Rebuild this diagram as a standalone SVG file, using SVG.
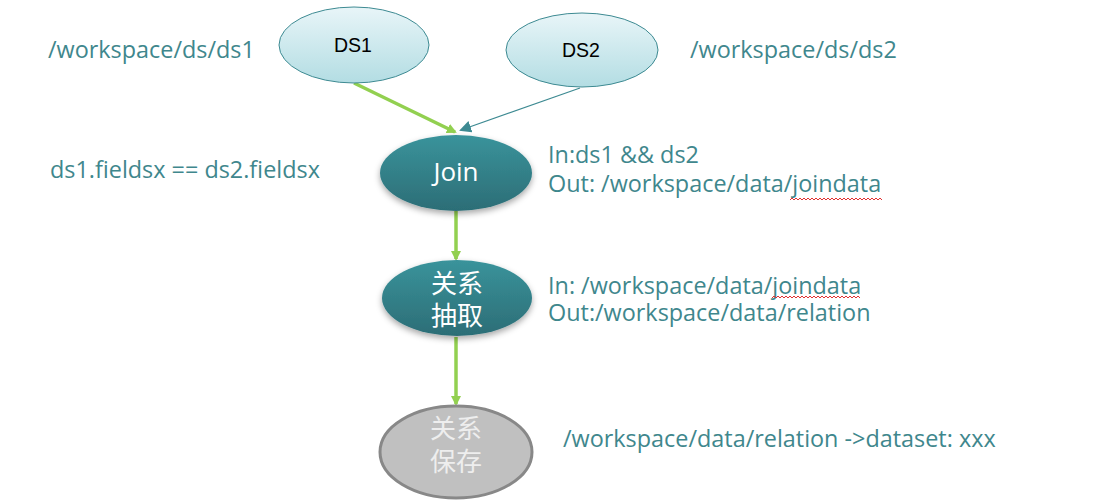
<svg xmlns="http://www.w3.org/2000/svg" width="1095" height="502" viewBox="0 0 1095 502">
<style>
.t{font-family:"Open Sans","Noto Sans CJK SC",sans-serif;font-size:23.4px;fill:#3f878d}
.ds{font-family:"Liberation Sans",Arial,sans-serif;font-size:19.5px;fill:#000;text-anchor:middle}
.w{font-family:"Open Sans","Noto Sans CJK SC",sans-serif;font-size:26px;fill:#fff;text-anchor:middle}
.g{stroke:#92d050;stroke-width:3.5;fill:none}
</style>
<defs>
<linearGradient id="lb" x1="0" y1="0" x2="0" y2="1"><stop offset="0" stop-color="#e8f5f8"/><stop offset="1" stop-color="#b3dde3"/></linearGradient>
<linearGradient id="tl" x1="0" y1="0" x2="0" y2="1"><stop offset="0" stop-color="#3a939b"/><stop offset="1" stop-color="#2c6d76"/></linearGradient>
<filter id="sh" x="-20%" y="-20%" width="140%" height="150%"><feDropShadow dx="0" dy="3" stdDeviation="3" flood-color="#000" flood-opacity="0.35"/></filter>
<marker id="ga" markerWidth="10" markerHeight="10" refX="8" refY="5" orient="auto" markerUnits="userSpaceOnUse"><path d="M0,0 L10,5 L0,10 z" fill="#92d050"/></marker>
<marker id="ta" markerWidth="12" markerHeight="12" refX="10" refY="6" orient="auto" markerUnits="userSpaceOnUse"><path d="M0,0 L12,6 L0,12 z" fill="#3d8a92"/></marker>
</defs>
<g id="connectors">
<line class="g" x1="354" y1="83" x2="455" y2="132" marker-end="url(#ga)"/>
<line x1="580" y1="88" x2="461" y2="130" stroke="#3d8a92" stroke-width="1.2" marker-end="url(#ta)"/>
<line class="g" x1="456" y1="211" x2="456" y2="259" marker-end="url(#ga)"/>
<line class="g" x1="456" y1="337" x2="456" y2="404" marker-end="url(#ga)"/>
</g>
<g id="ds1"><ellipse cx="354" cy="45" rx="75" ry="38" fill="url(#lb)" stroke="#3d8a92" stroke-width="1"/><text class="ds" x="353" y="52">DS1</text></g>
<g id="ds2"><ellipse cx="582" cy="50" rx="76" ry="37" fill="url(#lb)" stroke="#3d8a92" stroke-width="1"/><text class="ds" x="581" y="57">DS2</text></g>
<g id="join"><ellipse cx="456" cy="173" rx="76" ry="38" fill="url(#tl)" filter="url(#sh)"/><text class="w" x="456" y="181">Join</text></g>
<g id="extract"><ellipse cx="457" cy="298" rx="75" ry="38" fill="url(#tl)" filter="url(#sh)"/><text class="w" x="457" y="293">关系</text><text class="w" x="457" y="325">抽取</text></g>
<g id="save"><ellipse cx="456" cy="452" rx="76" ry="46" fill="#c0c0c0" stroke="#888" stroke-width="3"/><text class="w" x="456" y="438" style="fill:#eee">关系</text><text class="w" x="456" y="471" style="fill:#eee">保存</text></g>
<g id="labels">
<text class="t" x="48" y="58">/workspace/ds/ds1</text>
<text class="t" x="690" y="58">/workspace/ds/ds2</text>
<text class="t" x="50" y="178">ds1.fieldsx == ds2.fieldsx</text>
<text class="t" x="548" y="163">In:ds1 &amp;&amp; ds2</text>
<text class="t" x="548" y="192">Out: /workspace/data/joindata</text>
<text class="t" x="548" y="294">In: /workspace/data/joindata</text>
<text class="t" x="548" y="321">Out:/workspace/data/relation</text>
<text class="t" x="563" y="447">/workspace/data/relation -&gt;dataset: xxx</text>
</g>
<g id="spell" fill="none" stroke="#e03030" stroke-width="1">
<path d="M790,200 l2,-2 l2,2 l2,-2 l2,2 l2,-2 l2,2 l2,-2 l2,2 l2,-2 l2,2 l2,-2 l2,2 l2,-2 l2,2 l2,-2 l2,2 l2,-2 l2,2 l2,-2 l2,2 l2,-2 l2,2 l2,-2 l2,2 l2,-2 l2,2 l2,-2 l2,2 l2,-2 l2,2 l2,-2 l2,2 l2,-2 l2,2 l2,-2 l2,2 l2,-2 l2,2 l2,-2 l2,2 l2,-2 l2,2 l2,-2 l2,2 l2,-2 l2,2"/>
<path d="M772,298 l2,-2 l2,2 l2,-2 l2,2 l2,-2 l2,2 l2,-2 l2,2 l2,-2 l2,2 l2,-2 l2,2 l2,-2 l2,2 l2,-2 l2,2 l2,-2 l2,2 l2,-2 l2,2 l2,-2 l2,2 l2,-2 l2,2 l2,-2 l2,2 l2,-2 l2,2 l2,-2 l2,2 l2,-2 l2,2 l2,-2 l2,2 l2,-2 l2,2 l2,-2 l2,2 l2,-2 l2,2 l2,-2 l2,2 l2,-2 l2,2"/>
</g>
</svg>
